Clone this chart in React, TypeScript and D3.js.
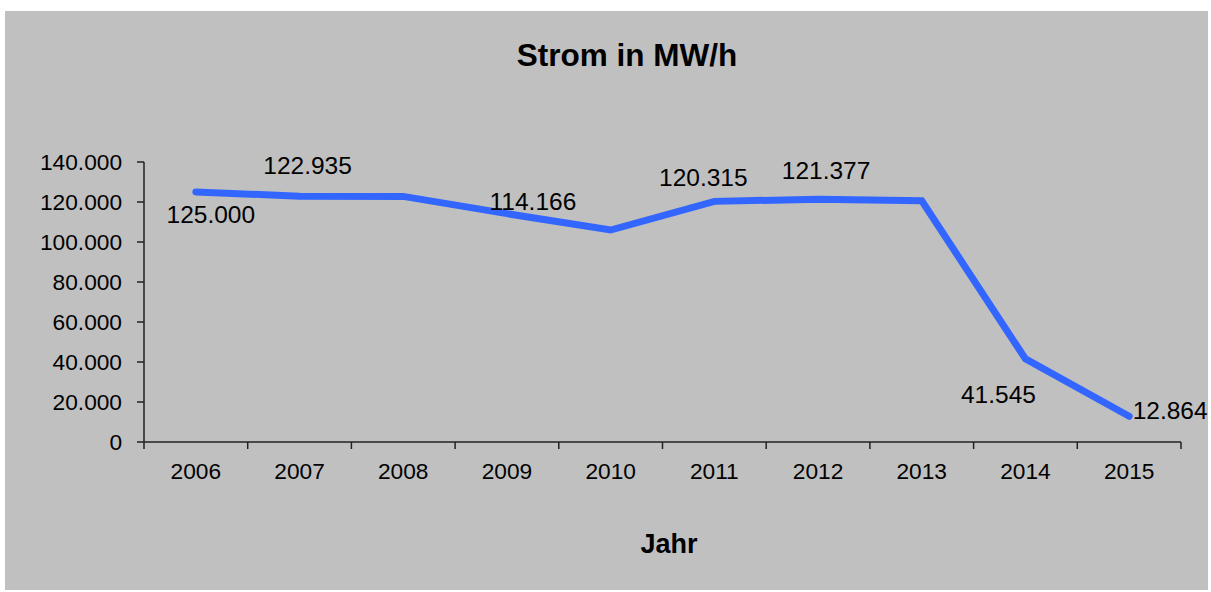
import React from "react";
import * as d3 from "d3";

const years = ["2006", "2007", "2008", "2009", "2010", "2011", "2012", "2013", "2014", "2015"];
const values = [125000, 122935, 122800, 114166, 106000, 120315, 121377, 120600, 41545, 12864];
const showLabel = [true, true, false, true, false, true, true, false, true, true];
const yTicks = [0, 20000, 40000, 60000, 80000, 100000, 120000, 140000];
// label centre offsets relative to the point (layout only)
const labelDx = [15, 8, 0, 26, 0, -11, 8, 0, -27, 41];
const labelDy = [22, -31, 0, -12, 0, -24, -29, 0, 36, -6];

const W = 1211;
const H = 592;
const left = 144;
const right = 1181;
const top = 162;
const bottom = 442;
const FONT = "'Liberation Sans', Arial, sans-serif";

const fmt = (v: number) => {
  if (v === 0) return "0";
  const s = Math.round(v).toString();
  return s.replace(/\B(?=(\d{3})+(?!\d))/g, ".");
};

export default function App() {
  const x = d3.scaleBand<string>().domain(years).range([left, right]).paddingInner(0).paddingOuter(0);
  const y = d3.scaleLinear().domain([0, 140000]).range([bottom, top]);
  const cx = (i: number) => (x(years[i]) as number) + x.bandwidth() / 2;
  const line = d3
    .line<number>()
    .x((_, i) => cx(i))
    .y((d) => y(d));
  const fs = 22.7;
  const lfs = 24.5;
  const boundaries = d3.range(years.length + 1).map((i) => left + i * x.bandwidth());

  return (
    <svg width={W} height={H} style={{ position: "absolute", left: 0, top: 0 }} fontFamily={FONT}>
      <rect x={0} y={0} width={W} height={H} fill="#ffffff" />
      <rect x={5} y={11} width={1203} height={579} fill="#c0c0c0" />
      <text x={627} y={66} textAnchor="middle" fontSize={31.5} fontWeight="bold" fill="#000">
        Strom in MW/h
      </text>
      {/* y axis */}
      <line x1={left} x2={left} y1={top} y2={bottom} stroke="#222" strokeWidth={1.5} />
      {yTicks.map((t) => (
        <g key={t}>
          <line x1={left - 7} x2={left} y1={y(t)} y2={y(t)} stroke="#222" strokeWidth={1.5} />
          <text x={122} y={y(t) + 8} textAnchor="end" fontSize={fs} fill="#000">
            {fmt(t)}
          </text>
        </g>
      ))}
      {/* x axis */}
      <line x1={left} x2={right} y1={bottom} y2={bottom} stroke="#222" strokeWidth={1.5} />
      {boundaries.map((b, i) => (
        <line key={i} x1={b} x2={b} y1={bottom} y2={bottom + 7} stroke="#222" strokeWidth={1.5} />
      ))}
      {years.map((yr, i) => (
        <text key={yr} x={cx(i)} y={478.5} textAnchor="middle" fontSize={fs} fill="#000">
          {yr}
        </text>
      ))}
      <text x={669} y={553} textAnchor="middle" fontSize={27} fontWeight="bold" fill="#000">
        Jahr
      </text>
      <path
        d={line(values) || ""}
        fill="none"
        stroke="#3366ff"
        strokeWidth={7}
        strokeLinecap="round"
        strokeLinejoin="miter"
      />
      {values.map((v, i) =>
        showLabel[i] ? (
          <text
            key={i}
            x={cx(i) + labelDx[i]}
            y={y(v) + labelDy[i] + 8.5}
            textAnchor="middle"
            fontSize={lfs}
            fill="#000"
          >
            {fmt(v)}
          </text>
        ) : null
      )}
    </svg>
  );
}
